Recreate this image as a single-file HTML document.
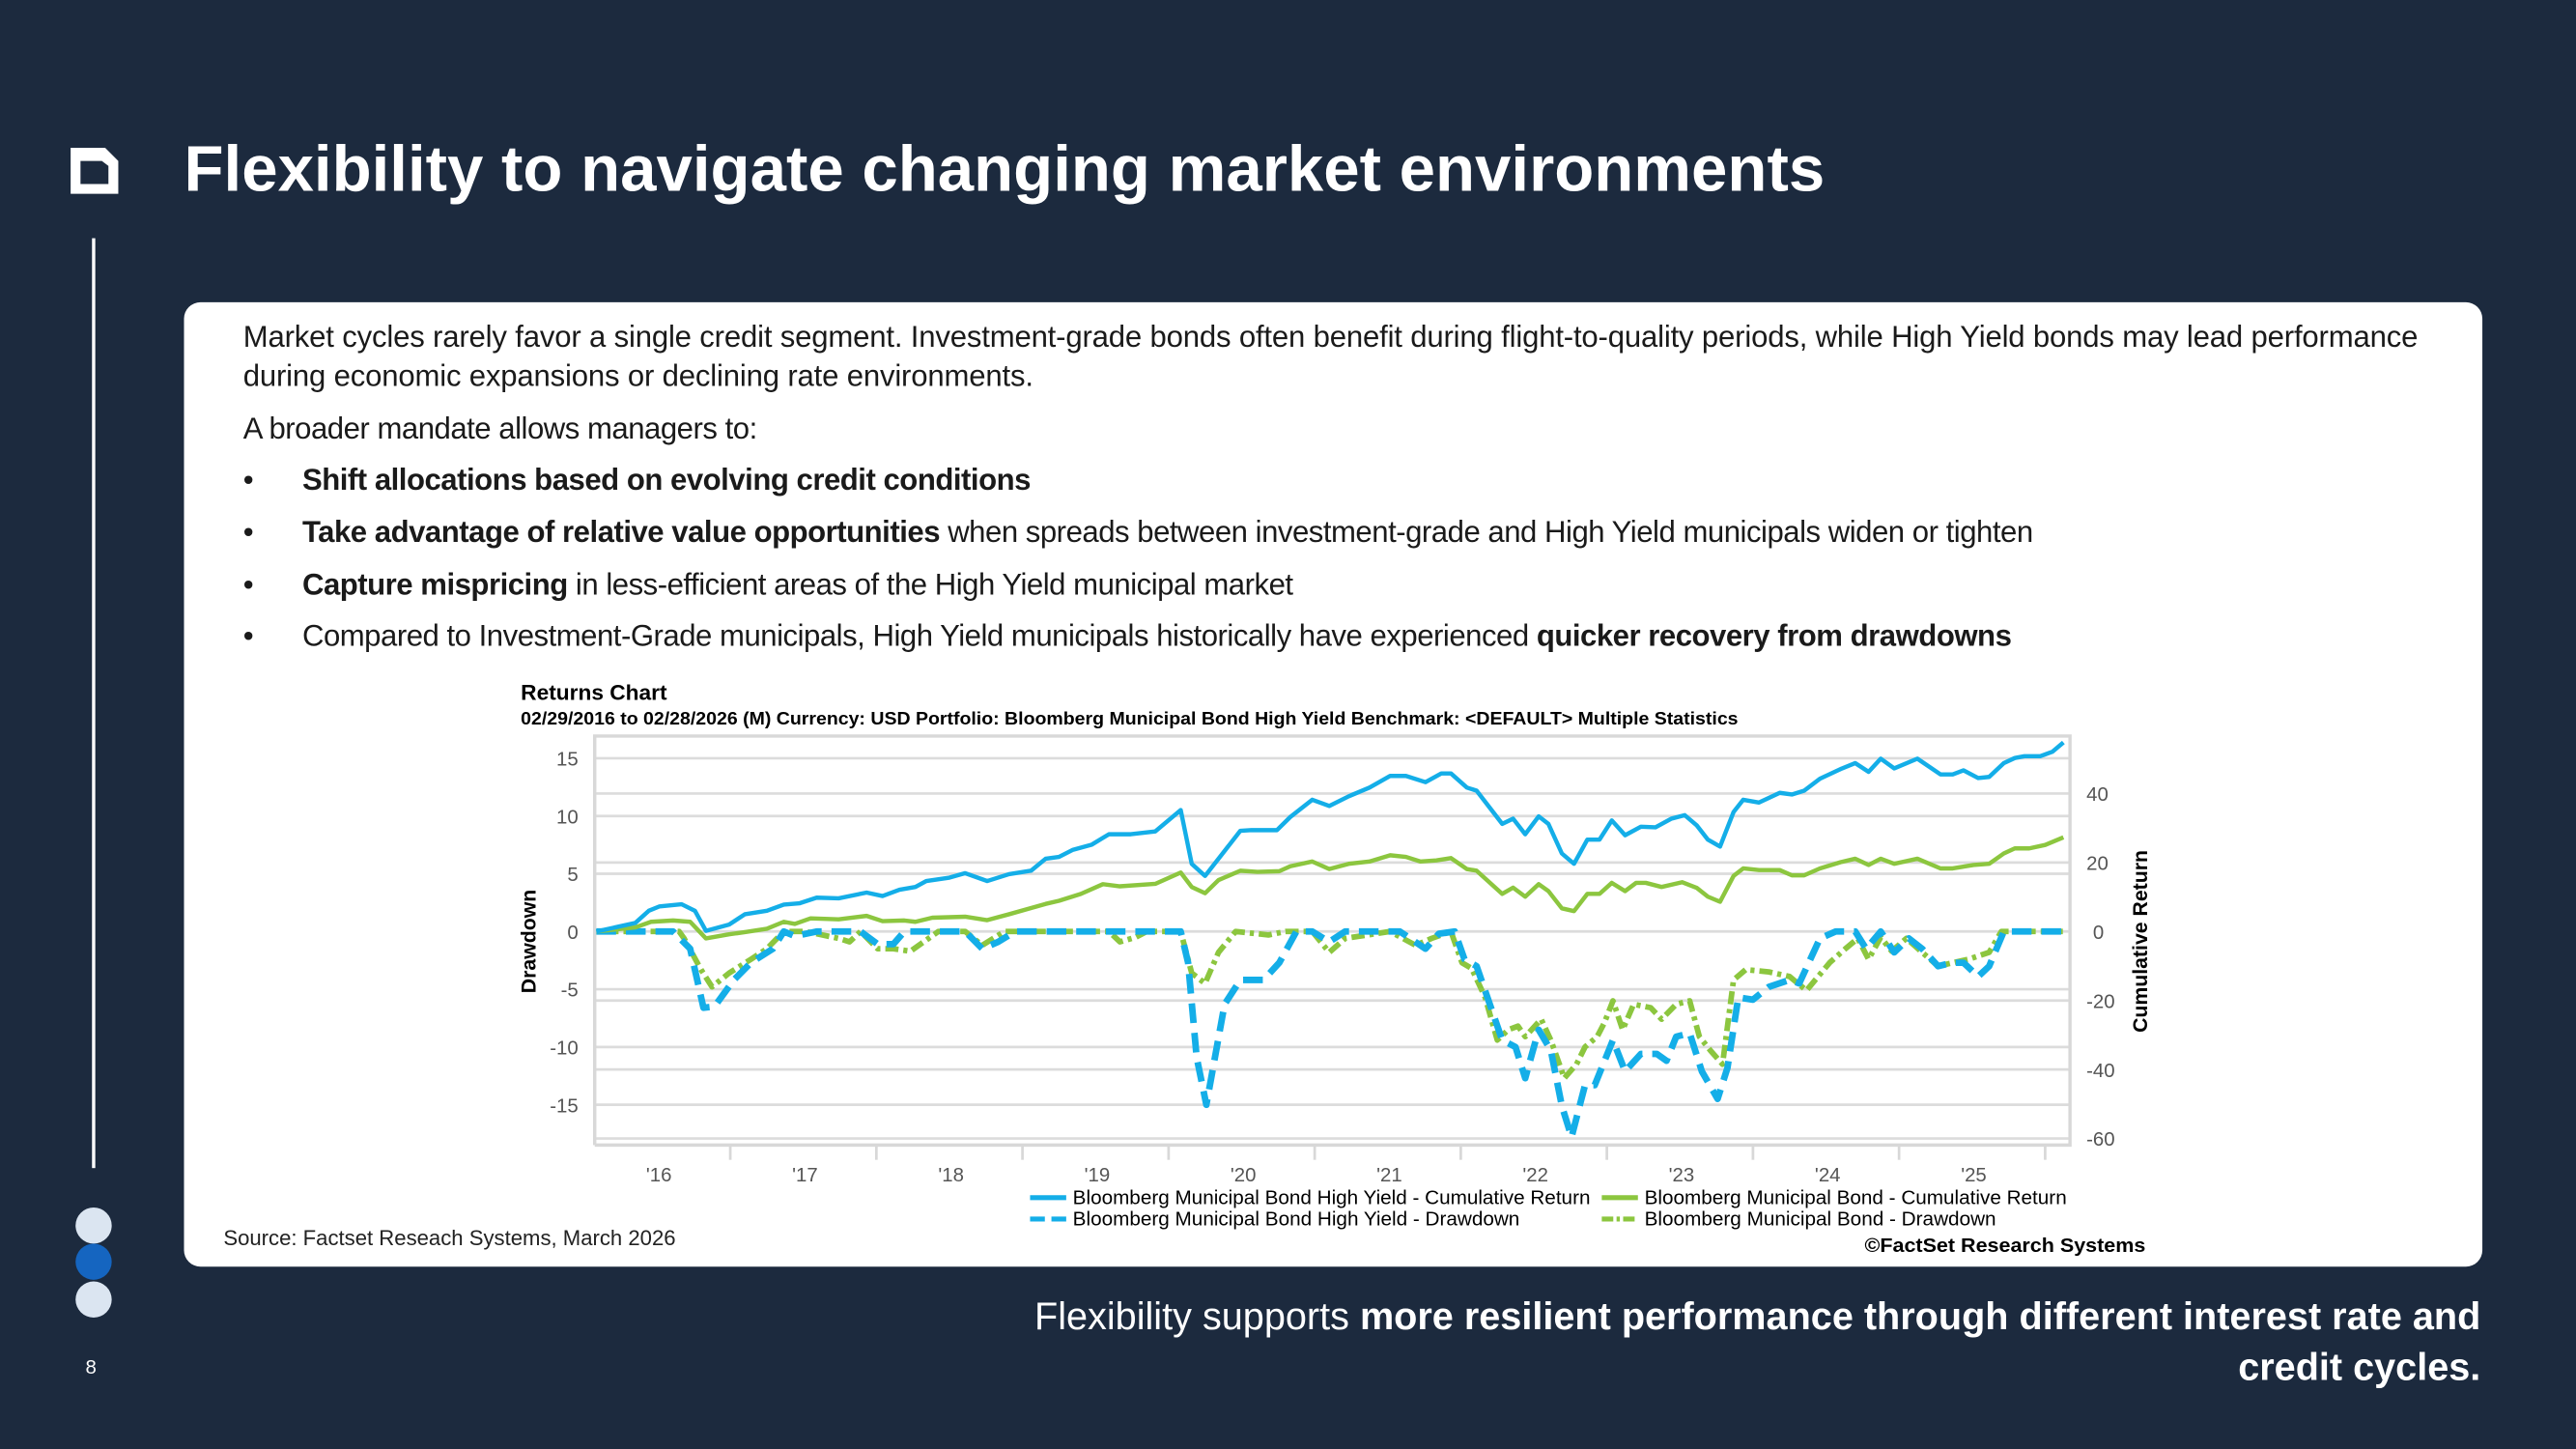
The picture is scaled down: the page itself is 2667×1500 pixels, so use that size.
<!DOCTYPE html>
<html><head><meta charset="utf-8"><style>
html,body{margin:0;padding:0;background:#1c2a3e;}
body{width:2667px;height:1500px;overflow:hidden;}
#page{position:absolute;left:0;top:0;width:1568px;height:882px;transform:scale(1.70089,1.70068);transform-origin:0 0;background:#1c2a3e;font-family:"Liberation Sans",sans-serif;}
.abs{position:absolute;white-space:nowrap;}
#card{position:absolute;left:112px;top:184px;width:1399px;height:587px;background:#fff;border-radius:10px;}
.p{position:absolute;left:36px;font-size:18.3px;color:#1a1a1a;white-space:nowrap;line-height:24px;}
.p span.t{letter-spacing:-0.28px;}
.b{font-weight:bold;}
</style></head><body>
<div id="page">
  <svg class="abs" style="left:40px;top:87px" width="36" height="34">
    <path d="M3 3 H24 L32 11 V31 H3 Z M9 11 V25 H26 V14 L22 11 Z" fill="#fff" fill-rule="evenodd"/>
  </svg>
  <div class="abs" style="left:112px;top:81px;font-size:39.5px;font-weight:bold;color:#fff;letter-spacing:0px">Flexibility to navigate changing market environments</div>
  <div class="abs" style="left:56px;top:145px;width:2px;height:566px;background:#fff"></div>
  <div class="abs" style="left:46px;top:735px;width:22px;height:22px;border-radius:50%;background:#dbe5f1"></div>
  <div class="abs" style="left:46px;top:757px;width:22px;height:22px;border-radius:50%;background:#1565c0"></div>
  <div class="abs" style="left:46px;top:780px;width:22px;height:22px;border-radius:50%;background:#dbe5f1"></div>
  <div class="abs" style="left:52px;top:825px;font-size:12px;color:#fff">8</div>

  <div id="card">
    <div class="p" style="top:9px;letter-spacing:-0.1px">Market cycles rarely favor a single credit segment. Investment-grade bonds often benefit during flight-to-quality periods, while High Yield bonds may lead performance<br>during economic expansions or declining rate environments.</div>
    <div class="p" style="top:65px"><span class="t">A broader mandate allows managers to:</span></div>
    <div class="p" style="top:96px">•<span style="position:absolute;left:36px" class="b t">Shift allocations based on evolving credit conditions</span></div>
    <div class="p" style="top:128px">•<span class="t" style="position:absolute;left:36px"><span class="b">Take advantage of relative value opportunities</span> when spreads between investment-grade and High Yield municipals widen or tighten</span></div>
    <div class="p" style="top:160px">•<span class="t" style="position:absolute;left:36px"><span class="b">Capture mispricing</span> in less-efficient areas of the High Yield municipal market</span></div>
    <div class="p" style="top:191px">•<span class="t" style="position:absolute;left:36px">Compared to Investment-Grade municipals, High Yield municipals historically have experienced <span class="b">quicker recovery from drawdowns</span></span></div>
    <div class="abs" style="left:24px;top:562px;font-size:13px;color:#222">Source: Factset Reseach Systems, March 2026</div>
  </div>

  <svg id="chart" class="abs" style="left:0;top:0" width="1568" height="882"></svg>

  <div class="abs" style="right:58px;top:786px;font-size:23.3px;color:#fff;text-align:right;line-height:31px">Flexibility supports <b>more resilient performance through different interest rate and</b><br><b>credit cycles.</b></div>
</div>
<script>
// Month index 0 = Feb 2016, 120 = Feb 2026
const hyCumMonths=[0,3.2,4.3,5.2,7.0,8.1,9.0,10.9,12.2,14.0,15.4,16.7,18.1,19.9,22.2,23.5,24.9,26.2,27.1,29.0,30.3,32.1,33.9,35.7,36.9,38.0,39.1,40.7,42.1,43.9,45.9,48.0,48.9,50.0,52.9,53.8,55.9,57.0,58.8,60.2,61.8,63.5,65.2,66.5,68.1,69.4,70.2,71.5,72.3,74.4,75.3,76.3,77.4,78.2,79.3,80.3,81.4,82.4,83.4,84.5,85.8,87.0,88.3,89.4,90.4,91.3,92.3,93.4,94.2,95.5,97.2,98.2,99.2,100.5,102.2,103.4,104.5,105.5,106.6,108.5,110.4,111.4,112.3,113.5,114.4,115.6,116.5,117.3,118.6,119.6,120.5];
const hyCumValues=[0,2.5,6.0,7.3,7.9,6.0,0.2,2.0,5.0,6.0,7.8,8.2,9.8,9.6,11.3,10.3,12.1,12.9,14.6,15.6,16.9,14.6,16.6,17.6,21.1,21.6,23.6,25.2,28.2,28.2,29.0,35.2,19.6,16.1,29.2,29.4,29.4,33.2,38.2,36.4,39.2,41.7,45.1,45.1,43.3,45.8,45.8,41.7,40.8,31.2,32.7,28.2,33.4,31.2,22.6,19.6,26.6,26.6,32.2,27.9,30.4,30.2,32.7,33.7,30.7,26.6,24.6,34.6,38.2,37.4,40.2,39.7,40.8,44.3,47.1,48.8,46.3,50.1,47.3,50.1,45.5,45.5,46.7,44.5,44.8,48.8,50.3,50.8,50.8,52.1,54.8];
const muniCumMonths=[0,3.2,4.5,6.3,7.7,9.0,10.9,12.2,14.0,15.4,16.3,17.6,19.9,22.2,23.5,25.3,26.2,27.6,30.3,32.1,33.9,35.7,36.9,38.0,39.8,41.6,43.0,45.9,48.0,48.9,50.0,51.1,52.9,54.3,56.1,57.0,58.8,60.2,61.8,63.5,65.2,66.5,67.7,69.0,70.2,71.5,72.3,74.4,75.3,76.3,77.4,78.2,79.3,80.3,81.4,82.4,83.4,84.5,85.4,86.2,87.5,89.2,90.4,91.3,92.3,93.4,94.2,95.5,97.2,98.2,99.2,100.5,102.2,103.4,104.5,105.5,106.6,108.5,110.4,111.4,113.1,114.4,115.6,116.5,117.7,119.0,120.5];
const muniCumValues=[0,1.2,2.8,3.2,2.8,-2.0,-0.8,-0.2,0.8,2.8,2.2,3.8,3.5,4.5,3.0,3.2,2.8,4.0,4.3,3.3,5.0,6.8,8.0,8.9,10.9,13.7,13.1,13.8,17.1,12.9,11.1,14.9,17.6,17.3,17.5,18.9,20.3,18.1,19.6,20.3,22.1,21.6,20.3,20.6,21.3,18.1,17.6,10.9,12.7,10.1,13.7,11.7,6.7,5.9,10.9,10.9,14.1,11.7,14.1,14.1,12.9,14.3,12.6,10.1,8.6,16.1,18.3,17.8,17.8,16.3,16.3,18.3,20.1,21.1,19.3,21.1,19.6,21.1,18.3,18.3,19.3,19.6,22.6,24.1,24.1,25.1,27.3];
const hyDdMonths=[0,6.3,7.7,8.8,9.7,11.3,12.7,14.5,15.4,16.3,18.1,21.7,23.1,24.4,25.3,30.3,31.7,33.0,34.4,48.0,48.6,49.3,50.1,51.6,52.9,54.8,56.1,57.5,58.8,60.2,61.5,66.0,68.1,69.2,70.5,71.3,72.3,74.4,75.5,76.3,77.4,78.4,79.3,80.1,81.2,82.0,83.5,84.5,85.8,87.1,87.9,88.7,89.8,90.8,92.1,92.9,93.8,95.0,96.3,98.0,98.8,100.5,101.8,103.4,104.3,105.5,106.6,107.8,108.9,110.2,111.4,112.3,113.5,114.4,115.6,120.5];
const hyDdValues=[0,0,-1.5,-6.6,-6.5,-4.2,-2.7,-1.5,0,-0.4,0,0,-1.1,-1.1,0,0,-1.5,-0.9,0,0,-2.7,-10.9,-15.0,-6.3,-4.2,-4.2,-2.7,0,0,-0.9,0,0,-1.5,-0.2,0,-2.4,-3.0,-9.4,-10.0,-12.7,-8.5,-10.3,-15.1,-17.8,-13.3,-13.3,-9.4,-12.1,-10.6,-10.6,-11.2,-9.1,-8.8,-12.1,-14.5,-11.8,-5.7,-5.9,-4.8,-4.2,-4.5,-0.6,0,0,-1.5,0,-1.8,-0.6,-1.5,-3.0,-2.7,-2.7,-3.9,-3.0,0,0];
const muniDdMonths=[0,6.8,7.2,8.6,9.5,10.9,12.7,14.0,15.4,17.2,19.9,20.8,21.7,23.1,24.4,25.8,28.1,30.3,31.7,32.6,33.5,42.1,43.0,44.3,45.2,48.0,48.9,50.0,51.1,52.5,55.2,56.6,58.8,60.2,61.5,65.2,67.3,68.6,70.2,71.1,71.9,73.0,74.0,74.9,75.7,76.3,77.6,78.4,79.5,80.5,81.2,82.2,82.8,83.5,84.3,85.2,86.6,87.5,88.7,89.8,90.6,91.5,92.5,93.4,94.4,96.3,98.0,99.4,101.3,102.6,103.6,104.5,105.5,106.4,107.6,108.9,110.2,111.4,112.7,114.4,115.4,120.5];
const muniDdValues=[0,0,-0.6,-3.3,-4.8,-3.6,-2.4,-1.5,0,0,-0.6,-0.9,0,-1.5,-1.5,-1.7,0,0,-1.2,-0.6,0,0,-0.9,-0.5,0,0,-3.6,-4.5,-1.8,0,-0.3,0,0,-1.8,-0.6,0,-1.2,-0.6,0,-2.7,-3.2,-5.7,-9.4,-8.5,-8.2,-9.1,-7.6,-9.4,-12.7,-11.5,-10.0,-9.1,-7.9,-6.0,-8.5,-6.3,-6.6,-7.6,-6.3,-6.0,-9.1,-10.3,-11.5,-4.2,-3.3,-3.5,-3.9,-5.1,-2.7,-1.5,-0.6,-2.4,-0.5,-1.7,-0.6,-1.8,-3.0,-2.7,-2.4,-1.8,0,0];
const leftTicks=[15,10,5,0,-5,-10,-15];
const rightTicks=[40,20,0,-20,-40,-60];
const yearLabels=["'16","'17","'18","'19","'20","'21","'22","'23","'24","'25"];

const NS="http://www.w3.org/2000/svg";
const svg=document.getElementById('chart');
const PL=362,PR=1260,PT=448,PB=697,Y0=567;
function xM(m){return 363+m*(1256-363)/120.5;}
function yL(v){return Y0-v*7.03;}
function yR(v){return Y0-v*2.1;}
function mk(tag,attrs){const e=document.createElementNS(NS,tag);for(const k in attrs)e.setAttribute(k,attrs[k]);svg.appendChild(e);return e;}

let t=mk('text',{x:317,y:426,'font-size':13,'font-weight':'bold',fill:'#000','font-family':'Liberation Sans, sans-serif',textLength:89,lengthAdjust:'spacingAndGlyphs'});t.textContent='Returns Chart';


t=mk('text',{x:317,y:441,'font-size':11,'font-weight':'bold',fill:'#000','font-family':'Liberation Sans, sans-serif',textLength:741,lengthAdjust:'spacingAndGlyphs'});t.textContent='02/29/2016 to 02/28/2026 (M) Currency: USD Portfolio: Bloomberg Municipal Bond High Yield Benchmark: <DEFAULT> Multiple Statistics';



leftTicks.forEach(v=>{const l=mk('line',{x1:PL,x2:PR,y1:yL(v),y2:yL(v),stroke:'#dcdcdc','stroke-width':1.6});


const tx=mk('text',{x:352,y:yL(v)+4.5,'font-size':12,fill:'#555','text-anchor':'end','font-family':'Liberation Sans, sans-serif'});tx.textContent=v;

});
rightTicks.forEach(v=>{if(v!==0){const l=mk('line',{x1:PL,x2:PR,y1:yR(v),y2:yR(v),stroke:'#dcdcdc','stroke-width':1.6});

}
const tx=mk('text',{x:v===0?1274:1270,y:yR(v)+4.5,'font-size':12,fill:'#555','font-family':'Liberation Sans, sans-serif'});tx.textContent=v;

});
let fr=mk('path',{d:`M${PL} ${PB} V${PT} H${PR} V${PB} H${PL}`,fill:'none',stroke:'#d8d8d8','stroke-width':2});


for(let i=0;i<10;i++){const xt=xM(11+12*i);
const tk=mk('line',{x1:xt,x2:xt,y1:PB,y2:PB+9,stroke:'#d8d8d8','stroke-width':1.6});


const lx=xM(5+12*i)+1;
const tx=mk('text',{x:lx,y:719,'font-size':12,fill:'#555','text-anchor':'middle','font-family':'Liberation Sans, sans-serif'});tx.textContent=yearLabels[i];

}
t=mk('text',{x:0,y:0,'font-size':12.5,'font-weight':'bold',fill:'#000','text-anchor':'middle',transform:'translate(326,573) rotate(-90)','font-family':'Liberation Sans, sans-serif'});t.textContent='Drawdown';


t=mk('text',{x:0,y:0,'font-size':12.5,'font-weight':'bold',fill:'#000','text-anchor':'middle',transform:'translate(1307,573) rotate(-90)','font-family':'Liberation Sans, sans-serif'});t.textContent='Cumulative Return';



function series(ms,vs,yf,color,w,dash,name){
  const d=ms.map((m,i)=>(i?'L':'M')+xM(m).toFixed(1)+' '+yf(vs[i]).toFixed(1)).join(' ');
  const p=mk('path',{d:d,fill:'none',stroke:color,'stroke-width':w,'stroke-linejoin':'round'});
  if(dash)p.setAttribute('stroke-dasharray',dash);
  
  
}
const BLUE='#14aee8',GREEN='#8cc63f';
series(muniDdMonths,muniDdValues,yL,GREEN,3.4,'8 3 2.5 3','muni-drawdown-line');
series(hyDdMonths,hyDdValues,yL,BLUE,4,'12 6','hy-drawdown-line');
series(muniCumMonths,muniCumValues,yR,GREEN,2.6,null,'muni-cumulative-line');
series(hyCumMonths,hyCumValues,yR,BLUE,2.6,null,'hy-cumulative-line');

const leg=[[627,729,BLUE,null,'Bloomberg Municipal Bond High Yield - Cumulative Return',315],
[627,742,BLUE,'9 4','Bloomberg Municipal Bond High Yield - Drawdown',272],
[975,729,GREEN,null,'Bloomberg Municipal Bond - Cumulative Return',257],
[975,742,GREEN,'7 2 2 2','Bloomberg Municipal Bond - Drawdown',214]];
leg.forEach(a=>{const l=mk('line',{x1:a[0],x2:a[0]+22,y1:a[1],y2:a[1],stroke:a[2],'stroke-width':3});if(a[3])l.setAttribute('stroke-dasharray',a[3]);


const tx=mk('text',{x:a[0]+26,y:a[1]+4,'font-size':12,fill:'#000','font-family':'Liberation Sans, sans-serif',textLength:a[5],lengthAdjust:'spacingAndGlyphs'});tx.textContent=a[4];

});
t=mk('text',{x:1135,y:762,'font-size':12,'font-weight':'bold',fill:'#000','font-family':'Liberation Sans, sans-serif',textLength:171,lengthAdjust:'spacingAndGlyphs'});t.textContent='©FactSet Research Systems';


</script>
</body></html>
